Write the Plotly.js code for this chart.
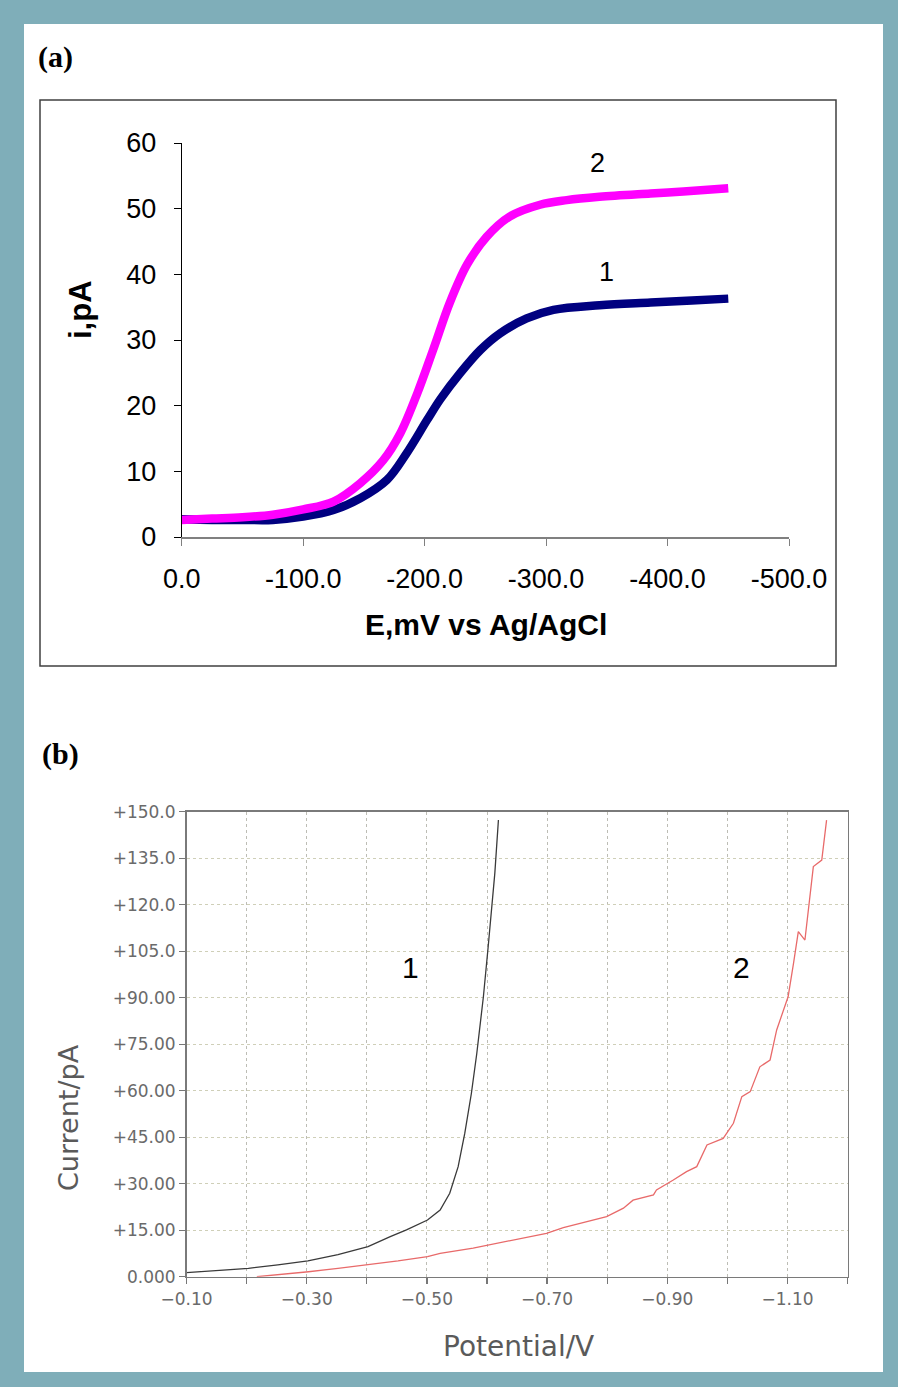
<!DOCTYPE html>
<html>
<head>
<meta charset="utf-8">
<script src="https://cdn.plot.ly/plotly-3.0.1.min.js"></script>
<style>
  html, body { margin: 0; padding: 0; background: #7FAEB9; }
  #chart { width: 898px; height: 1387px; }
</style>
</head>
<body>
<div id="chart"></div>
<script>
// ---------- Panel (a): steady-state voltammograms ----------
const a_E1 = [0, -25, -50, -75, -100, -125, -147, -169, -185, -202, -213, -229, -246, -262, -284, -306, -344, -386, -420, -450];
const a_i1 = [2.7, 2.6, 2.6, 2.6, 3.1, 4.1, 5.9, 8.7, 12.7, 17.8, 21.0, 24.9, 28.5, 31.0, 33.3, 34.6, 35.3, 35.7, 36.0, 36.3];
const a_E2 = [0, -25, -50, -75, -100, -125, -147, -166, -180, -194, -207, -221, -235, -251, -270, -295, -317, -344, -386, -413, -450];
const a_i2 = [2.6, 2.8, 3.0, 3.4, 4.2, 5.4, 8.2, 11.7, 15.8, 21.9, 28.5, 35.8, 41.5, 45.7, 48.8, 50.6, 51.3, 51.8, 52.3, 52.6, 53.1];
const a_xticks = [0, -100, -200, -300, -400, -500];
const a_xticktext = ["0.0", "-100.0", "-200.0", "-300.0", "-400.0", "-500.0"];
const a_yticks = [0, 10, 20, 30, 40, 50, 60];

// ---------- Panel (b): linear sweep voltammograms ----------
const b_E1 = [-0.100, -0.152, -0.203, -0.252, -0.302, -0.352, -0.402, -0.439, -0.466, -0.501, -0.522, -0.538, -0.552, -0.563, -0.574, -0.583, -0.594, -0.602, -0.608, -0.613, -0.619];
const b_i1 = [1.3, 1.9, 2.7, 3.8, 5.1, 7.1, 9.7, 12.9, 15.1, 18.3, 21.5, 26.9, 35.5, 46.2, 59.1, 72.0, 90.3, 106.5, 119.4, 130.1, 147.3];
const b_E2 = [-0.217, -0.25, -0.303, -0.352, -0.402, -0.452, -0.501, -0.522, -0.577, -0.633, -0.699, -0.727, -0.755, -0.799, -0.827, -0.843, -0.877, -0.882, -0.910, -0.932, -0.949, -0.966, -0.993, -1.010, -1.024, -1.038, -1.054, -1.071, -1.082, -1.101, -1.110, -1.118, -1.129, -1.137, -1.143, -1.157, -1.162, -1.165];
const b_i2 = [0.0, 0.6, 1.6, 2.7, 3.8, 5.1, 6.5, 7.5, 9.2, 11.3, 14.0, 15.8, 17.2, 19.4, 22.1, 24.7, 26.4, 28.0, 31.2, 33.9, 35.5, 42.5, 44.6, 49.5, 58.1, 59.7, 67.7, 69.9, 79.6, 90.3, 101.1, 111.3, 108.6, 121.5, 132.3, 134.4, 143.0, 147.3];
const b_xticks = [-0.1, -0.2, -0.3, -0.4, -0.5, -0.6, -0.7, -0.8, -0.9, -1.0, -1.1, -1.2];
const b_xticktext = ["\u22120.10", "", "\u22120.30", "", "\u22120.50", "", "\u22120.70", "", "\u22120.90", "", "\u22121.10", ""];
const b_yticks = [0, 15, 30, 45, 60, 75, 90, 105, 120, 135, 150];
const b_yticktext = ["0.000", "+15.00", "+30.00", "+45.00", "+60.00", "+75.00", "+90.00", "+105.0", "+120.0", "+135.0", "+150.0"];

// ---------- layout helpers (pixel -> paper) ----------
const W = 898, H = 1387;
const PX = p => p / W;
const PY = p => 1 - p / H;

const ARIAL = "Liberation Sans, Arial, sans-serif";
const GOTH = "DejaVu Sans, sans-serif";

const traces = [
  { x: a_E1, y: a_i1, xaxis: "x", yaxis: "y", mode: "lines", line: { color: "#000080", width: 8.5, shape: "spline", smoothing: 1.0 }, hoverinfo: "skip" },
  { x: a_E2, y: a_i2, xaxis: "x", yaxis: "y", mode: "lines", line: { color: "#FF00FF", width: 8.5, shape: "spline", smoothing: 1.0 }, hoverinfo: "skip" },
  { x: b_E1, y: b_i1, xaxis: "x2", yaxis: "y2", mode: "lines", line: { color: "#3a3a3a", width: 1.3 }, hoverinfo: "skip" },
  { x: b_E2, y: b_i2, xaxis: "x2", yaxis: "y2", mode: "lines", line: { color: "#E86A6A", width: 1.3 }, hoverinfo: "skip" }
];

const layout = {
  width: W, height: H,
  margin: { l: 0, r: 0, t: 0, b: 0 },
  paper_bgcolor: "#7FAEB9",
  plot_bgcolor: "rgba(0,0,0,0)",
  showlegend: false,
  xaxis: {
    domain: [PX(181.7), PX(789)], range: [0, -500], anchor: "y",
    tickvals: a_xticks, ticktext: a_xticktext,
    ticks: "outside", ticklen: 7, tickcolor: "#808080", tickwidth: 1,
    ticklabelstandoff: 10,
    showline: true, linecolor: "#808080", linewidth: 1.5,
    showgrid: false, zeroline: false,
    tickfont: { family: ARIAL, size: 27, color: "#000" },
    automargin: false
  },
  yaxis: {
    domain: [PY(537), PY(143)], range: [0, 60], anchor: "x",
    tickvals: a_yticks,
    ticks: "outside", ticklen: 7, tickcolor: "#000", tickwidth: 1,
    ticklabelstandoff: 12,
    showline: true, linecolor: "#000", linewidth: 1,
    showgrid: false, zeroline: false,
    tickfont: { family: ARIAL, size: 27, color: "#000" },
    automargin: false
  },
  xaxis2: {
    domain: [PX(186.5), PX(847.6)], range: [-0.1, -1.2], anchor: "y2",
    tickvals: b_xticks, ticktext: b_xticktext,
    ticks: "outside", ticklen: 6, tickcolor: "#777", tickwidth: 1.2,
    showline: true, mirror: true, linecolor: "#7a7a7a", linewidth: 1.5,
    showgrid: true, gridcolor: "#bdbdb5", griddash: "dot", gridwidth: 1,
    zeroline: false,
    tickfont: { family: GOTH, size: 17, color: "#6a6a6a" },
    automargin: false
  },
  yaxis2: {
    domain: [PY(1276.7), PY(811.7)], range: [0, 150], anchor: "x2",
    tickvals: b_yticks, ticktext: b_yticktext,
    ticks: "outside", ticklen: 6, tickcolor: "#777", tickwidth: 1.2,
    showline: true, mirror: true, linecolor: "#7a7a7a", linewidth: 1.5,
    showgrid: true, gridcolor: "#cfcfb8", griddash: "dot", gridwidth: 1,
    zeroline: false,
    tickfont: { family: GOTH, size: 17, color: "#6a6a6a" },
    automargin: false
  },
  shapes: [
    { type: "rect", xref: "paper", yref: "paper", x0: PX(24), x1: PX(883), y0: PY(1372), y1: PY(24), fillcolor: "#ffffff", line: { width: 0 }, layer: "below" },
    { type: "rect", xref: "paper", yref: "paper", x0: PX(40), x1: PX(836), y0: PY(666), y1: PY(100), fillcolor: "rgba(0,0,0,0)", line: { color: "#404040", width: 1.5 }, layer: "below" }
  ],
  annotations: [
    { text: "<b>(a)</b>", xref: "paper", yref: "paper", x: PX(36), y: PY(38), xanchor: "left", yanchor: "top", showarrow: false, font: { family: "Liberation Serif, Times New Roman, serif", size: 30, color: "#000" } },
    { text: "<b>(b)</b>", xref: "paper", yref: "paper", x: PX(40), y: PY(735), xanchor: "left", yanchor: "top", showarrow: false, font: { family: "Liberation Serif, Times New Roman, serif", size: 30, color: "#000" } },
    { text: "<b>i,pA</b>", xref: "paper", yref: "paper", x: PX(80), y: PY(310), xanchor: "center", yanchor: "middle", textangle: -90, showarrow: false, font: { family: ARIAL, size: 31, color: "#000" } },
    { text: "<b>E,mV vs Ag/AgCl</b>", xref: "paper", yref: "paper", x: PX(486), y: PY(625), xanchor: "center", yanchor: "middle", showarrow: false, font: { family: ARIAL, size: 30, color: "#000" } },
    { text: "2", xref: "x", yref: "y", x: -342, y: 57, xanchor: "center", yanchor: "middle", showarrow: false, font: { family: ARIAL, size: 27, color: "#000" } },
    { text: "1", xref: "x", yref: "y", x: -349.5, y: 40.4, xanchor: "center", yanchor: "middle", showarrow: false, font: { family: ARIAL, size: 27, color: "#000" } },
    { text: "Current/pA", xref: "paper", yref: "paper", x: PX(68), y: PY(1118), xanchor: "center", yanchor: "middle", textangle: -90, showarrow: false, font: { family: GOTH, size: 27, color: "#5a5a5a" } },
    { text: "Potential/V", xref: "paper", yref: "paper", x: PX(518), y: PY(1346), xanchor: "center", yanchor: "middle", showarrow: false, font: { family: GOTH, size: 28, color: "#5a5a5a" } },
    { text: "1", xref: "x2", yref: "y2", x: -0.472, y: 99.6, xanchor: "center", yanchor: "middle", showarrow: false, font: { family: ARIAL, size: 30, color: "#000" } },
    { text: "2", xref: "x2", yref: "y2", x: -1.023, y: 99.6, xanchor: "center", yanchor: "middle", showarrow: false, font: { family: ARIAL, size: 30, color: "#000" } }
  ]
};

Plotly.newPlot("chart", traces, layout, { displayModeBar: false, staticPlot: true });
</script>
</body>
</html>
